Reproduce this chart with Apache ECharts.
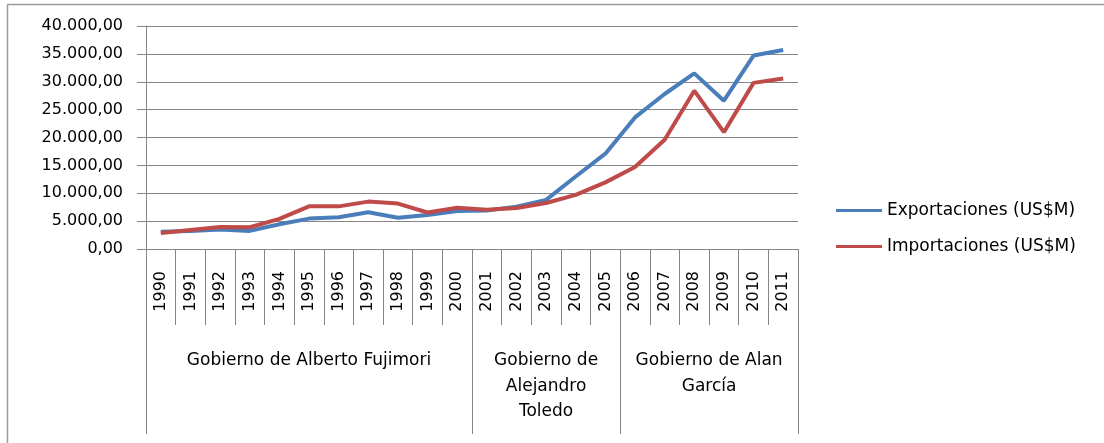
<!DOCTYPE html>
<html>
<head>
<meta charset="utf-8">
<title>Exportaciones e Importaciones</title>
<script src="https://cdn.jsdelivr.net/npm/echarts@6/dist/echarts.min.js"></script>
<style>
    html, body { margin: 0; padding: 0; background: #fff; }
    #chart { width: 1104px; height: 443px; }
</style>
</head>
<body>
<div id="chart"></div>
<script>
    // datos
    var years = ['1990', '1991', '1992', '1993', '1994', '1995', '1996', '1997', '1998', '1999', '2000',
        '2001', '2002', '2003', '2004', '2005', '2006', '2007', '2008', '2009', '2010', '2011'];
    var exportaciones = [3100, 3250, 3500, 3250, 4450, 5450, 5700, 6600, 5600, 6100, 6800,
        6900, 7600, 8800, 13000, 17100, 23600, 27800, 31500, 26600, 34700, 35700];
    var importaciones = [2850, 3400, 3950, 3900, 5400, 7650, 7650, 8500, 8150, 6550, 7400,
        7050, 7350, 8250, 9700, 11950, 14700, 19600, 28400, 20950, 29800, 30600];
    var seriesNames = ['Exportaciones (US$M)', 'Importaciones (US$M)'];
    // gobiernos: primer indice de cada grupo y etiqueta
    var groupStarts = [0, 11, 16];
    var groupLabels = ['Gobierno de Alberto Fujimori', 'Gobierno de\nAlejandro\nToledo', 'Gobierno de Alan\nGarcía'];
    var yTicks = [0, 5000, 10000, 15000, 20000, 25000, 30000, 35000, 40000];

    var gray = '#868686';
    var font = 'DejaVu Sans';

    // formato 35.000,00
    function fmtNum(v) {
        var s = String(Math.round(v));
        s = s.replace(/\B(?=(\d{3})+(?!\d))/g, '.');
        return s + ',00';
    }

    // centro de cada grupo en unidades de categoria
    var groupCenters = [];
    for (var g = 0; g < groupStarts.length; g++) {
        var end = g + 1 < groupStarts.length ? groupStarts[g + 1] : years.length;
        groupCenters.push((groupStarts[g] + end) / 2);
    }

    var chart = echarts.init(document.getElementById('chart'));
    var option = {
        animation: false,
        backgroundColor: '#fff',
        grid: { left: 146, right: 306, top: 26, bottom: 194 },
        legend: {
            orient: 'vertical',
            left: 831,
            top: 197,
            itemGap: 19,
            itemWidth: 46,
            itemHeight: 3,
            icon: 'rect',
            textStyle: { fontFamily: font, fontSize: 17, color: '#000' },
            data: seriesNames
        },
        xAxis: [{
            type: 'category',
            data: years,
            position: 'bottom',
            boundaryGap: true,
            axisLine: { lineStyle: { color: gray, width: 1 } },
            axisTick: { show: true, interval: 0, length: 76, lineStyle: { color: gray } },
            axisLabel: {
                interval: 0, rotate: 90, margin: 22,
                fontFamily: font, fontSize: 16, color: '#000'
            }
        }, {
            // separadores de gobiernos
            type: 'category',
            data: years,
            position: 'bottom',
            boundaryGap: true,
            axisLine: { show: false },
            axisLabel: { show: false },
            axisTick: {
                show: true, length: 185, lineStyle: { color: gray },
                interval: function (i) { return groupStarts.indexOf(i) >= 0; }
            }
        }, {
            // etiquetas de gobiernos
            type: 'value',
            min: 0,
            max: years.length,
            interval: 0.5,
            position: 'bottom',
            axisLine: { show: false },
            axisTick: { show: false },
            splitLine: { show: false },
            axisLabel: {
                margin: 99,
                verticalAlign: 'top',
                align: 'center',
                lineHeight: 25.5,
                fontFamily: font, fontSize: 17, color: '#000',
                formatter: function (v) {
                    for (var k = 0; k < groupCenters.length; k++) {
                        if (Math.abs(v - groupCenters[k]) < 0.01) return groupLabels[k];
                    }
                    return '';
                }
            }
        }],
        yAxis: {
            type: 'value',
            min: yTicks[0],
            max: yTicks[yTicks.length - 1],
            interval: yTicks[1] - yTicks[0],
            axisLine: { show: true, lineStyle: { color: gray } },
            axisTick: { show: true, length: 9, lineStyle: { color: gray } },
            splitLine: { lineStyle: { color: gray, width: 1 } },
            axisLabel: {
                margin: 23, fontFamily: font, fontSize: 16, color: '#000',
                formatter: fmtNum
            }
        },
        series: [{
            name: seriesNames[0],
            type: 'line',
            data: exportaciones,
            symbol: 'none',
            color: '#4A7EBB',
            lineStyle: { width: 4, color: '#4A7EBB' }
        }, {
            name: seriesNames[1],
            type: 'line',
            data: importaciones,
            symbol: 'none',
            color: '#BE4B48',
            lineStyle: { width: 4, color: '#BE4B48' }
        }],
        // borde del area del grafico
        graphic: [{
            type: 'line', silent: true,
            shape: { x1: 7.5, y1: 4.5, x2: 1104, y2: 4.5 },
            style: { stroke: '#9a9a9a', lineWidth: 1.5 }
        }, {
            type: 'line', silent: true,
            shape: { x1: 7.5, y1: 4.5, x2: 7.5, y2: 443 },
            style: { stroke: '#9a9a9a', lineWidth: 1.5 }
        }]
    };
    chart.setOption(option);
</script>
</body>
</html>
